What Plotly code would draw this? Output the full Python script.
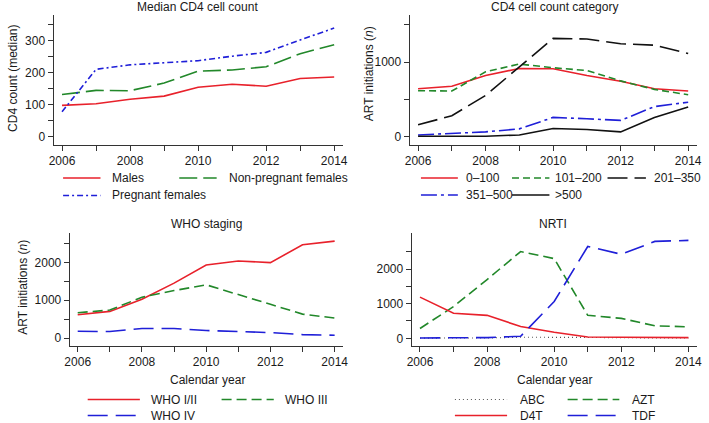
import plotly.graph_objects as go

# ---------------- data ----------------
years = [2006, 2007, 2008, 2009, 2010, 2011, 2012, 2013, 2014]

# Panel 1: median CD4 count
cd4_males = [98, 103, 117, 127, 155, 164, 158, 182, 187]
cd4_nonpreg = [132, 145, 144, 168, 205, 209, 219, 260, 288]
cd4_preg = [78, 211, 225, 232, 238, 252, 264, 303, 340]

# Panel 2: CD4 cell count category (ART initiations)
cat_0_100 = [644, 676, 820, 914, 910, 820, 743, 644, 613]
cat_101_200 = [617, 613, 869, 973, 923, 887, 748, 635, 563]
cat_201_350 = [162, 284, 554, 937, 1315, 1306, 1243, 1225, 1113]
cat_351_500 = [27, 45, 68, 108, 261, 243, 221, 405, 464]
cat_gt500 = [9, 14, 9, 27, 113, 99, 68, 261, 401]

# Panel 3: WHO staging
who_1_2 = [619, 708, 1027, 1451, 1929, 2035, 1991, 2460, 2558]
who_3 = [673, 743, 1080, 1257, 1407, 1159, 894, 637, 531]
who_4 = [186, 177, 257, 257, 204, 177, 150, 97, 80]

# Panel 4: NRTI
nrti_abc = [5, 5, 10, 30, 35, 25, 15, 10, 10]
nrti_azt = [283, 917, 1698, 2507, 2302, 663, 576, 361, 332]
nrti_d4t = [1190, 722, 663, 341, 176, 39, 29, 20, 20]
nrti_tdf = [10, 10, 20, 59, 1063, 2654, 2429, 2800, 2829]

x_ticks = [2006, 2007, 2008, 2009, 2010, 2011, 2012, 2013, 2014]
x_ticktext = ["2006", "", "2008", "", "2010", "", "2012", "", "2014"]
y1_ticks = [0, 50, 100, 150, 200, 250, 300, 350]
y1_ticktext = ["0", "", "100", "", "200", "", "300", ""]
y2_ticks = [0, 500, 1000, 1500]
y2_ticktext = ["0", "", "1000", ""]
y3_ticks = [0, 500, 1000, 1500, 2000, 2500]
y3_ticktext = ["0", "", "1000", "", "2000", ""]

# ---------------- styles ----------------
RED = "#e8212b"
GREEN = "#22882a"
BLUE = "#1f1fd8"
BLACK = "#111111"
GREY = "#555555"
FONT = "Liberation Sans, Arial, Helvetica, sans-serif"
TXT = "#1a1a1a"
W = 709
H = 423
LW = 1.6

series = [
    # panel, name, values, color, dash, width
    (1, "Males", cd4_males, RED, "solid", LW),
    (1, "Non-pregnant females", cd4_nonpreg, GREEN, "18px,6px", LW),
    (1, "Pregnant females", cd4_preg, BLUE, "6px,3px,2px,3px", LW),
    (2, "0–100", cat_0_100, RED, "solid", LW),
    (2, "101–200", cat_101_200, GREEN, "7px,4px", LW),
    (2, "201–350", cat_201_350, BLACK, "20px,7px", LW),
    (2, "351–500", cat_351_500, BLUE, "16px,4px,3px,4px", LW),
    (2, ">500", cat_gt500, BLACK, "solid", LW),
    (3, "WHO I/II", who_1_2, RED, "solid", LW),
    (3, "WHO III", who_3, GREEN, "10px,5px", LW),
    (3, "WHO IV", who_4, BLUE, "20px,8px", LW),
    (4, "ABC", nrti_abc, GREY, "1px,3px", 1.1),
    (4, "AZT", nrti_azt, GREEN, "10px,5px", LW),
    (4, "D4T", nrti_d4t, RED, "solid", LW),
    (4, "TDF", nrti_tdf, BLUE, "20px,8px", LW),
]

fig = go.Figure()
for p, name, vals, col, dash, w in series:
    sfx = "" if p == 1 else str(p)
    fig.add_trace(go.Scatter(
        x=years, y=vals, mode="lines", name=name,
        line=dict(color=col, dash=dash, width=w),
        xaxis="x" + sfx, yaxis="y" + sfx, showlegend=False,
        hoverinfo="x+y+name",
    ))


def px_x(v):
    return v / W


def px_y(v):
    return 1 - v / H


def xaxis(domain, anchor):
    return dict(
        domain=domain, anchor=anchor, range=[2005.75, 2014.25],
        tickmode="array", tickvals=x_ticks, ticktext=x_ticktext,
        ticks="outside", ticklen=5, tickwidth=1, tickcolor="#333",
        showline=True, linecolor="#333", linewidth=1,
        showgrid=False, zeroline=False,
        tickfont=dict(family=FONT, size=12, color=TXT), fixedrange=True,
    )


def yaxis(domain, anchor, rng, tv, tt):
    return dict(
        domain=domain, anchor=anchor, range=rng,
        tickmode="array", tickvals=tv, ticktext=tt,
        ticks="outside", ticklen=5, tickwidth=1, tickcolor="#333",
        showline=True, linecolor="#333", linewidth=1,
        showgrid=False, zeroline=False,
        tickfont=dict(family=FONT, size=12, color=TXT), fixedrange=True,
    )


top_y = [px_y(145), px_y(15)]
bot_y = [px_y(345.7), px_y(233)]

fig.update_layout(
    width=W, height=H,
    margin=dict(l=0, r=0, t=0, b=0),
    paper_bgcolor="white", plot_bgcolor="white",
    font=dict(family=FONT, size=12, color=TXT),
    showlegend=False,
    xaxis=xaxis([px_x(49.3), px_x(343)], "y"),
    yaxis=yaxis(top_y, "x", [-26, 381], y1_ticks, y1_ticktext),
    xaxis2=xaxis([px_x(411), px_x(702.5)], "y2"),
    yaxis2=yaxis(top_y, "x2", [-107, 1627], y2_ticks, y2_ticktext),
    xaxis3=xaxis([px_x(65.7), px_x(343)], "y3"),
    yaxis3=yaxis(bot_y, "x3", [-195, 2771], y3_ticks, y3_ticktext),
    xaxis4=xaxis([px_x(413), px_x(702.7)], "y4"),
    yaxis4=yaxis(bot_y, "x4", [-214, 3043], y3_ticks, y3_ticktext),
)

annotations = []


def text(x, y, s, xanchor="center", angle=0):
    annotations.append(dict(
        x=px_x(x), y=px_y(y), xref="paper", yref="paper", text=s,
        showarrow=False, xanchor=xanchor, yanchor="middle", textangle=angle,
        font=dict(family=FONT, size=12, color=TXT),
    ))


# panel titles
text(196, 7, "Median CD4 cell count")
text(558, 7, "CD4 cell count category")
text(205, 223.5, "WHO staging")
text(557, 223.5, "NRTI")
# axis titles
text(8, 78, "CD4 count (median)", angle=-90)
text(370, 74, "ART initiations (<i>n</i>)", angle=-90)
text(18, 287, "ART initiations (<i>n</i>)", angle=-90)
text(206, 380, "Calendar year")
text(558, 380, "Calendar year")

# legends: (name, row_y, line_x0, line_x1, text_x)
style = {name: (col, dash, w) for _, name, _, col, dash, w in series}
legend_items = [
    ("Males", 178, 59, 97, 107),
    ("Non-pregnant females", 178, 177, 215, 225),
    ("Pregnant females", 195.5, 59, 97, 107),
    ("0–100", 178, 422.5, 460, 466.5),
    ("101–200", 178, 515, 553, 557),
    ("201–350", 178, 612, 651, 657),
    ("351–500", 195, 422.5, 460, 466.5),
    (">500", 195, 515, 553, 557),
    ("WHO I/II", 399.5, 84, 137, 146.5),
    ("WHO III", 399.5, 220, 273, 282),
    ("WHO IV", 415.5, 84, 137, 146.5),
    ("ABC", 399.5, 457, 510, 521.5),
    ("AZT", 399.5, 571.5, 624, 635),
    ("D4T", 415.5, 457, 510, 521.5),
    ("TDF", 415.5, 571.5, 624, 635),
]
shapes = []
for name, ry, x0, x1, tx in legend_items:
    col, dash, w = style[name]
    shapes.append(dict(
        type="line", xref="paper", yref="paper",
        x0=px_x(x0), x1=px_x(x1), y0=px_y(ry), y1=px_y(ry),
        line=dict(color=col, dash=dash, width=w),
    ))
    text(tx, ry, name, xanchor="left")

fig.update_layout(annotations=annotations, shapes=shapes)

fig.write_html(
    "out.html",
    config={"displayModeBar": False},
    post_script="document.body.style.margin='0';document.body.style.padding='0';document.body.style.overflow='hidden';",
)
